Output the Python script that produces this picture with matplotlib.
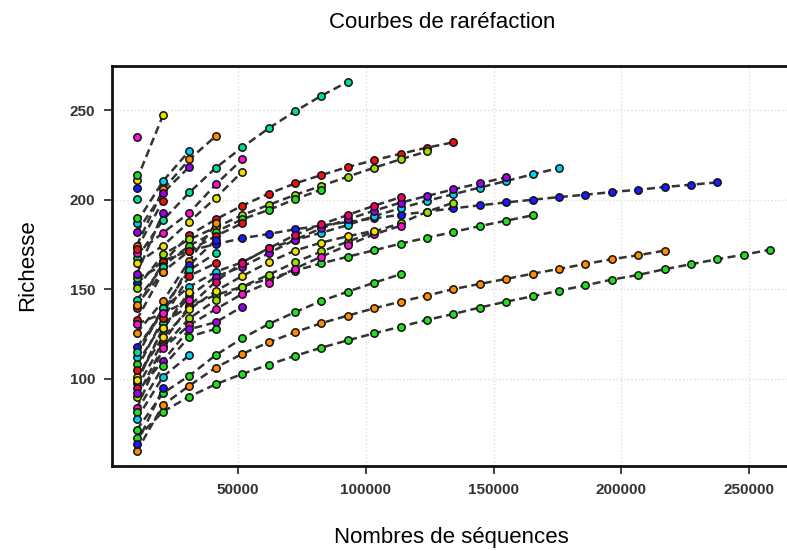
import numpy as np
import matplotlib
matplotlib.use("Agg")
import matplotlib.pyplot as plt
from matplotlib import font_manager

# ---------------- data ----------------
step_size = 10330  # number of sequences between two rarefaction points

# richness values at successive rarefaction depths (1*step, 2*step, ...)
s_g2 = [66.7, 81.6, 90, 96.9, 102.6, 107.8, 112.7, 117.3, 121.4, 125.3, 129, 132.8, 136.1,
        139.7, 143, 146, 149.1, 152.1, 155.3, 157.9, 161.1, 163.9, 166.7, 169.2, 172]
s_orange = [59.3, 85.3, 96.1, 106.2, 113.8, 120.3, 125.9, 131, 135.2, 139.3, 143, 146.4, 150,
            152.9, 155.7, 158.6, 161.3, 164, 166.7, 168.9, 171.5]
s_g1 = [71.4, 91.9, 101.7, 113.2, 122.5, 130.5, 137.1, 143.4, 148.6, 153.6, 158.3]
s_blue = [153.3, 165.9, 171.5, 175.1, 178.4, 180.8, 183.4, 185.5, 187.5, 189.5, 191.5, 193.3,
          195.1, 196.8, 198.4, 199.9, 201.4, 202.7, 204.2, 205.5, 207, 208.3, 209.6]
s_g191 = [108.2, 131, 140.6, 146.7, 151.4, 155.7, 160.3, 164.4, 168.1, 171.7, 175.4, 178.7,
          181.9, 185.2, 188.2, 191.2]
s_cyan = [112.3, 139.3, 151.4, 159.7, 165, 172.8, 177.4, 181.5, 185.8, 190.8, 195.2, 199.3,
          203, 206.7, 210.4, 214.1, 217.6]
s_purple = [97.8, 128.1, 146.2, 157, 162.5, 170, 177.6, 184, 189, 193.8, 198.3, 202, 205.7,
            209.1, 212.4]
s_rose = [94.7, 120.7, 140.6, 154.2, 164.8, 172.8, 180.2, 186.2, 191.4, 196.6, 201.3]
s_yg2 = [89.6, 118, 133.7, 143.9, 151.4, 158, 165, 171, 176.5, 182.1, 186.8, 193.2, 198.3]
s_mag10 = [83.4, 117, 130, 138.8, 147.3, 153.6, 161.5, 168.1, 174.6, 180.6, 185.4]
s_yel3 = [101.1, 123.1, 138.8, 149, 157.3, 165, 171.5, 176, 179.5, 182.6]
s_teal = [167.2, 188.6, 204, 217.8, 229.2, 239.8, 249.3, 258, 265.8]
s_red = [139.3, 165, 180.2, 189, 196.6, 203.3, 209, 213.7, 218.2, 222, 225.6, 229, 232]
s_yg1 = [150.5, 169.4, 177.8, 184.5, 191.4, 197, 202.6, 207.7, 212.8, 217.8, 222.5, 226.9]
s_green2 = [156, 163.1, 174.3, 182.1, 189, 194.2, 200.2, 205.6]
s_red16 = [132.8, 159.7, 171.5, 179.7, 186.8]
s_mag17 = [170, 181.5, 192.7, 208.5, 222.5]
s_yel18 = [164.4, 174.3, 187.7, 201, 215.6]
s_or19 = [174.3, 205.7, 222.5, 235.5]
s_cy20 = [187.1, 210.4, 227.3]
s_pu21 = [181.7, 203.8, 218.4]
s_yel0 = [210.9, 247.2]
s_single1 = [235.1]
s_single2 = [206.6]
s_r25 = [172.3, 199.4]
s_p26 = [158.3, 192.7]
s_single3 = [213.7]
s_single4 = [200.2]
s_a = [125.4, 143.4, 165.9, 186.8]
s_b = [117.6, 136.5, 163.5, 177.5]
s_c = [115, 139.3, 160.7, 170]
s_d = [105, 133.7, 157.5, 164.4]
s_e = [99, 128.1, 148.6]
s_f = [92.2, 110.1, 127.6, 131.5, 140.2]
s_g = [81.6, 106.8, 123.5, 127.8]
s_h = [77.5, 101.1, 113.2]
s_i = [63.4, 94.6]
s_k = [143.9, 162.5]
s_l = [141.2, 159.7]
s_m = [130.5, 136.5, 143.9]
s_single5 = [189.9]

RED, ORANGE, YELLOW, YG = '#ee1111', '#ff8c00', '#f0e000', '#99e000'
GREEN, TEAL, CYAN = '#22dd22', '#00dd99', '#00d0f0'
BLUE, PURPLE, MAGENTA, ROSE = '#1a1aff', '#9900ee', '#ff11cc', '#ee0066'

curves = [s_g2, s_orange, s_g1, s_blue, s_g191, s_cyan, s_purple, s_rose, s_yg2, s_mag10,
          s_yel3, s_teal, s_red, s_yg1, s_green2, s_red16, s_mag17, s_yel18, s_or19, s_cy20,
          s_pu21, s_yel0, s_single1, s_single2, s_r25, s_p26, s_single3, s_single4,
          s_a, s_b, s_c, s_d, s_e, s_f, s_g, s_h, s_i, s_k, s_l, s_m, s_single5]
colors = [GREEN, ORANGE, GREEN, BLUE, GREEN, CYAN, PURPLE, ROSE, YG, MAGENTA,
          YELLOW, TEAL, RED, YG, GREEN, RED, MAGENTA, YELLOW, ORANGE, CYAN,
          PURPLE, YELLOW, MAGENTA, BLUE, RED, PURPLE, GREEN, TEAL,
          ORANGE, BLUE, TEAL, RED, YELLOW, PURPLE, GREEN, CYAN, BLUE, TEAL, ORANGE, MAGENTA, GREEN]

x_ticks = [50000, 100000, 150000, 200000, 250000]
y_ticks = [100, 150, 200, 250]
title_text = "Courbes de raréfaction"
x_label = "Nombres de séquences"
y_label = "Richesse"

# ---------------- fonts ----------------
def pick(fams):
    for f in fams:
        try:
            font_manager.findfont(f, fallback_to_default=False)
            return f
        except Exception:
            pass
    return 'DejaVu Sans'

label_font = pick(['Liberation Sans Narrow', 'Liberation Sans', 'Arial'])
tick_font = pick(['Liberation Sans', 'Arial'])

# ---------------- figure ----------------
W, H = 787, 551
fig = plt.figure(figsize=(W / 100, H / 100), dpi=100)
xlim = (665, 272000)
ylim = (51.2, 274.6)
ax_left_px, ax_bottom_px, ax_top_px = 112, 466, 66
px_per_unit = 0.002555
ax_w_px = (xlim[1] - xlim[0]) * px_per_unit
ax = fig.add_axes([ax_left_px / W, (H - ax_bottom_px) / H, ax_w_px / W,
                   (ax_bottom_px - ax_top_px) / H])
ax.set_xlim(*xlim)
ax.set_ylim(*ylim)

for ys in curves:
    xs = step_size * np.arange(1, len(ys) + 1)
    ax.plot(xs, ys, ls=(0, (3.2, 1.8)), color='#333333', lw=1.8, zorder=2,
            solid_capstyle='butt', dash_capstyle='butt')
for ys, c in zip(curves, colors):
    xs = step_size * np.arange(1, len(ys) + 1)
    ax.plot(xs, ys, ls='none', marker='o', ms=5.3, mfc=c, mec='#111111', mew=1.1, zorder=3)

ax.set_xticks(x_ticks)
ax.set_xticklabels([str(v) for v in x_ticks])
ax.set_yticks(y_ticks)
ax.set_yticklabels([str(v) for v in y_ticks])
ax.grid(True, color='#dddddd', ls=':', lw=1.0, zorder=0)
ax.set_axisbelow(True)
for side in ['left', 'bottom', 'top', 'right']:
    ax.spines[side].set_linewidth(2.0)
    ax.spines[side].set_color('#111111')
ax.tick_params(axis='both', direction='out', length=6, width=1.3, color='#333333',
               labelsize=11, labelcolor='#333333', pad=6)
for lab in ax.get_xticklabels() + ax.get_yticklabels():
    lab.set_fontfamily(tick_font)
    lab.set_fontweight('bold')

fig.text(442 / W, 1 - 22 / H, title_text, ha='center', va='center', fontsize=16,
         family=label_font)
fig.text(451 / W, 1 - 537 / H, x_label, ha='center', va='center', fontsize=16,
         family=label_font)
fig.text(28 / W, 1 - 265 / H, y_label, ha='center', va='center', fontsize=16,
         rotation=90, family=label_font)

fig.savefig('out.png', dpi=100)
